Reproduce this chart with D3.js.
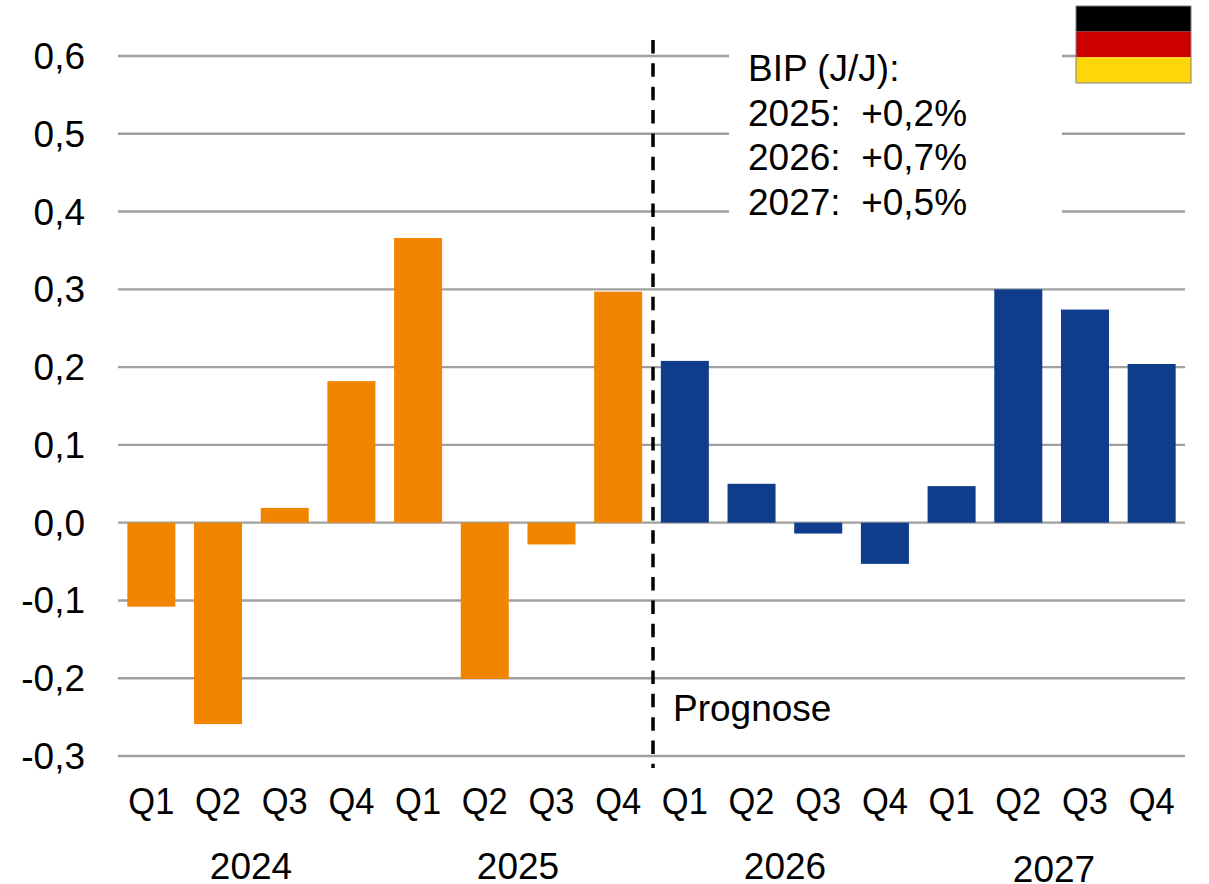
<!DOCTYPE html>
<html>
<head>
<meta charset="utf-8">
<script src="https://cdn.jsdelivr.net/npm/d3@7"></script>
<style>
html, body { margin: 0; padding: 0; background: #fff; }
svg { display: block; }
text { font-family: "Liberation Sans", Arial, sans-serif; fill: #000; }
</style>
</head>
<body>
<svg width="1209" height="884"></svg>
<script>
var quarters = ["Q1","Q2","Q3","Q4","Q1","Q2","Q3","Q4","Q1","Q2","Q3","Q4","Q1","Q2","Q3","Q4"];
var values = [-0.108,-0.259,0.019,0.182,0.366,-0.201,-0.028,0.297,0.208,0.05,-0.014,-0.053,0.047,0.3,0.274,0.204];
var forecast = [0,0,0,0,0,0,0,0,1,1,1,1,1,1,1,1];
var yTicks = [-0.3,-0.2,-0.1,0,0.1,0.2,0.3,0.4,0.5,0.6];
var years = ["2024","2025","2026","2027"];
var noteLines = ["BIP (J/J):","2025:  +0,2%","2026:  +0,7%","2027:  +0,5%"];
var flagColors = ["#000000","#cc0000","#ffd60a"];

var svg = d3.select("svg");
var plot = {left: 118, right: 1185, top: 56, bottom: 756};
var idx = d3.range(quarters.length);

var x = d3.scaleBand().domain(idx).range([plot.left, plot.right]).paddingInner(0.28).paddingOuter(0.14);
var y = d3.scaleLinear().domain([-0.3, 0.6]).range([plot.bottom, plot.top]);
var fmt = function(d) { return d3.format(".1f")(d).replace(".", ",").replace("\u2212", "-"); };

// gridlines
svg.append("g").selectAll("line").data(yTicks).enter().append("line")
  .attr("x1", plot.left).attr("x2", plot.right)
  .attr("y1", function(d) { return y(d); }).attr("y2", function(d) { return y(d); })
  .attr("stroke", "#a0a0a0").attr("stroke-width", 2.4);

// y labels
svg.append("g").selectAll("text").data(yTicks).enter().append("text")
  .attr("x", 85).attr("y", function(d) { return y(d) + 13; })
  .attr("text-anchor", "end").attr("font-size", 37).text(fmt);

// bars
svg.append("g").selectAll("rect").data(values).enter().append("rect")
  .attr("x", function(d, i) { return x(i); })
  .attr("width", x.bandwidth())
  .attr("y", function(d) { return y(Math.max(0, d)); })
  .attr("height", function(d) { return Math.abs(y(d) - y(0)); })
  .attr("fill", function(d, i) { return forecast[i] ? "#0f3d8c" : "#f28500"; });

// white box behind the note
svg.append("rect").attr("x", 729).attr("y", 30).attr("width", 333).attr("height", 195).attr("fill", "#fff");

// forecast divider
var mid = (x(7) + x.bandwidth() + x(8)) / 2 + 1.5;
svg.append("line").attr("x1", mid).attr("x2", mid).attr("y1", 40).attr("y2", 768)
  .attr("stroke", "#000").attr("stroke-width", 3.5).attr("stroke-dasharray", "13.5 9.85");

// quarter labels
svg.append("g").selectAll("text").data(quarters).enter().append("text")
  .attr("x", function(d, i) { return x(i) + x.bandwidth() / 2 - 23; })
  .attr("y", 814).attr("font-size", 37)
  .attr("textLength", 46).attr("lengthAdjust", "spacingAndGlyphs")
  .text(function(d) { return d; });

// year labels
var yearPos = [251, 518, 785, 1054];
var yearY = [879, 879, 879, 882];
svg.append("g").selectAll("text").data(years).enter().append("text")
  .attr("x", function(d, i) { return yearPos[i]; })
  .attr("y", function(d, i) { return yearY[i]; })
  .attr("text-anchor", "middle").attr("font-size", 37)
  .text(function(d) { return d; });

// note
var noteY = [81, 126, 170, 215];
svg.append("g").selectAll("text").data(noteLines).enter().append("text")
  .attr("x", 748).attr("y", function(d, i) { return noteY[i]; })
  .attr("font-size", 37).style("white-space", "pre")
  .text(function(d) { return d; });

svg.append("text").attr("x", 673).attr("y", 721).attr("font-size", 37).text("Prognose");

// flag
var flag = svg.append("g");
flag.selectAll("rect").data(flagColors).enter().append("rect")
  .attr("x", 1076).attr("y", function(d, i) { return 6 + i * 25.6; })
  .attr("width", 115).attr("height", 25.6).attr("fill", function(d) { return d; });
flag.append("rect").attr("x", 1076).attr("y", 6).attr("width", 115).attr("height", 77)
  .attr("fill", "none").attr("stroke", "#808080").attr("stroke-width", 1);
</script>
</body>
</html>
